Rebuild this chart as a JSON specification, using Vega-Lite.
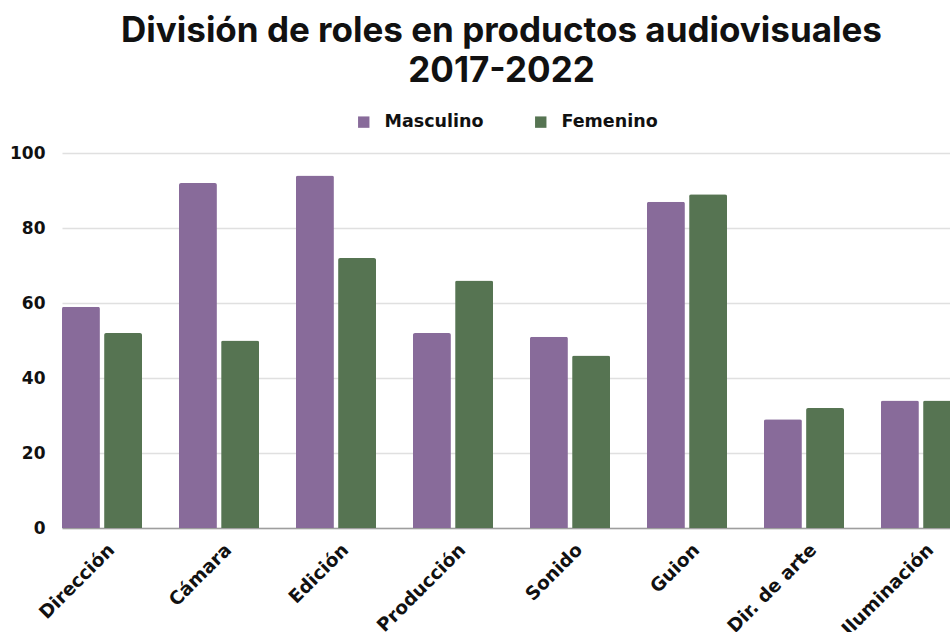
{
  "$schema": "https://vega.github.io/schema/vega-lite/v6.json",
  "width": 899,
  "height": 375,
  "autosize": "none",
  "padding": {"left": 62, "top": 153, "right": 0, "bottom": 104},
  "background": "white",
  "title": {
    "text": ["División de roles en productos audiovisuales", "2017-2022"],
    "anchor": "middle",
    "frame": "group",
    "dx": -10,
    "offset": 24,
    "font": "Inter",
    "fontSize": 35,
    "fontWeight": 700,
    "color": "#111111",
    "lineHeight": 40
  },
  "data": {
    "values": [
      {"rol": "Dirección", "genero": "Masculino", "valor": 59},
      {"rol": "Dirección", "genero": "Femenino", "valor": 52},
      {"rol": "Cámara", "genero": "Masculino", "valor": 92},
      {"rol": "Cámara", "genero": "Femenino", "valor": 50},
      {"rol": "Edición", "genero": "Masculino", "valor": 94},
      {"rol": "Edición", "genero": "Femenino", "valor": 72},
      {"rol": "Producción", "genero": "Masculino", "valor": 52},
      {"rol": "Producción", "genero": "Femenino", "valor": 66},
      {"rol": "Sonido", "genero": "Masculino", "valor": 51},
      {"rol": "Sonido", "genero": "Femenino", "valor": 46},
      {"rol": "Guion", "genero": "Masculino", "valor": 87},
      {"rol": "Guion", "genero": "Femenino", "valor": 89},
      {"rol": "Dir. de arte", "genero": "Masculino", "valor": 29},
      {"rol": "Dir. de arte", "genero": "Femenino", "valor": 32},
      {"rol": "Iluminación", "genero": "Masculino", "valor": 34},
      {"rol": "Iluminación", "genero": "Femenino", "valor": 34}
    ]
  },
  "mark": {"type": "bar", "cornerRadiusTopLeft": 2, "cornerRadiusTopRight": 2},
  "encoding": {
    "x": {
      "field": "rol",
      "type": "nominal",
      "sort": null,
      "scale": {"paddingInner": 0.316, "paddingOuter": 0},
      "axis": {
        "title": null,
        "labelAngle": -45,
        "labelAlign": "right",
        "labelBaseline": "top",
        "labelFont": "DejaVu Sans",
        "labelFontWeight": "bold",
        "labelFontSize": 18.5,
        "labelColor": "#111111",
        "labelPadding": 12,
        "labelOffset": 3,
        "ticks": false,
        "domainColor": "#9e9e9e",
        "domainWidth": 1.5
      }
    },
    "xOffset": {
      "field": "genero",
      "type": "nominal",
      "sort": ["Masculino", "Femenino"],
      "scale": {"paddingInner": 0.1, "paddingOuter": 0}
    },
    "y": {
      "field": "valor",
      "type": "quantitative",
      "scale": {"domain": [0, 100]},
      "axis": {
        "title": null,
        "values": [0, 20, 40, 60, 80, 100],
        "domain": false,
        "ticks": false,
        "gridColor": "#e0e0e0",
        "gridWidth": 1.5,
        "labelFont": "DejaVu Sans",
        "labelFontWeight": "bold",
        "labelFontSize": 17,
        "labelColor": "#111111",
        "labelPadding": 17
      }
    },
    "color": {
      "field": "genero",
      "type": "nominal",
      "sort": ["Masculino", "Femenino"],
      "scale": {"domain": ["Masculino", "Femenino"], "range": ["#886b9a", "#567452"]},
      "legend": {
        "title": null,
        "orient": "none",
        "legendX": 293,
        "legendY": -40,
        "direction": "horizontal",
        "symbolType": "square",
        "symbolSize": 130,
        "symbolStrokeWidth": 0,
        "labelFont": "DejaVu Sans",
        "labelFontWeight": "bold",
        "labelFontSize": 17.5,
        "labelColor": "#111111",
        "labelOffset": 12,
        "columnPadding": 48
      }
    }
  },
  "config": {"view": {"stroke": null}}
}
